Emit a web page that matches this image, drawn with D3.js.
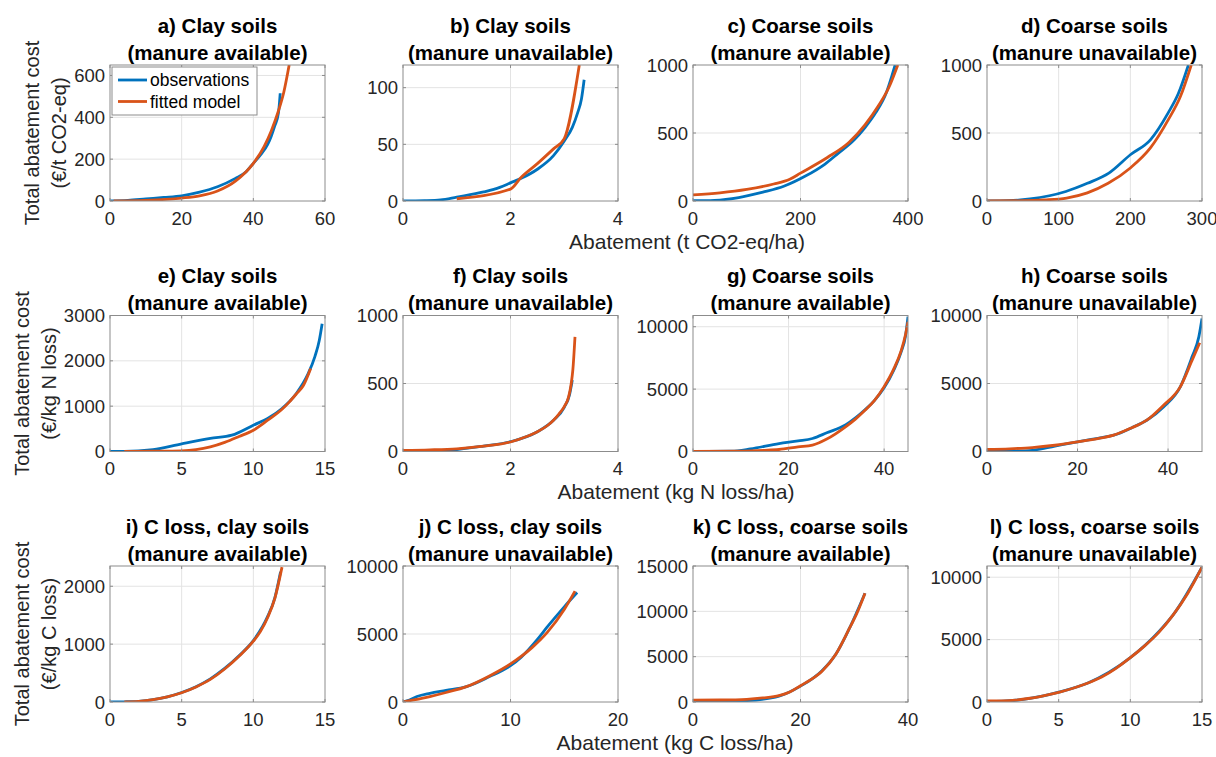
<!DOCTYPE html>
<html>
<head>
<meta charset="utf-8" />
<title>Abatement cost curves</title>
<script src="https://d3js.org/d3.v7.min.js"></script>
<style>
  body { margin: 0; background: #fff; }
  svg { display: block; font-family: "Liberation Sans", Arial, sans-serif; }
  .grid line { stroke: #e3e3e3; stroke-width: 1; }
  .frame { fill: none; stroke: #8c8c8c; stroke-width: 1; }
  .tick-mark { stroke: #8c8c8c; stroke-width: 1; }
  .tick-label { font-size: 18.5px; fill: #262626; }
  .title { font-size: 20.5px; font-weight: bold; fill: #000; text-anchor: middle; }
  .axis-label { font-size: 21px; fill: #262626; text-anchor: middle; }
  .obs { fill: none; stroke: #0072bd; stroke-width: 2.8; stroke-linejoin: round; }
  .fit { fill: none; stroke: #d95319; stroke-width: 2.8; stroke-linejoin: round; }
</style>
</head>
<body>
<svg width="1216" height="757"></svg>
<script>
  // ---- data: [abatement, total cost] ----
  const obsA = [[0,0],[5,3],[10,10],[15,17],[20,25],[25,42],[30,68],[35,108],[38,140],[40,180],[42,220],[44,270],[45,310],[46,360],[47,420],[47.3,470],[47.5,515]];
  const fitA = [[1,0],[10,3],[20,14],[25,25],[30,48],[35,95],[40,180],[43,260],[45,335],[47,430],[48.5,520],[50,650]];

  const obsB = [[0,0],[0.4,0.3],[0.7,1],[1,3.5],[1.5,8],[1.8,12],[2,16],[2.2,20],[2.5,28],[2.8,40],[3,53],[3.15,65],[3.25,78],[3.32,90],[3.37,107]];
  const fitB = [[1,2],[2,10.5],[2.2,21],[2.5,33],[2.8,46],[3,55],[3.28,120]];

  const obsC = [[0,2],[40,5],[85,25],[130,65],[170,110],[210,185],[245,270],[270,350],[300,450],[320,540],[340,650],[360,800],[370,920],[376,1000]];
  const fitC = [[0,45],[50,60],[100,85],[150,125],[180,160],[200,205],[250,320],[290,430],[320,560],[345,700],[365,840],[381,1000]];

  const obsD = [[0,0],[30,2],[60,15],[110,70],[140,130],[170,205],[200,340],[228,450],[253,650],[267,790],[281,1000]];
  const fitD = [[0,0],[50,2],[80,8],[111,22],[140,60],[169,130],[200,243],[228,390],[253,598],[270,770],[285,1000]];

  const obsE = [[0,0],[1,0],[3,40],[5,170],[7,290],[8.5,360],[10,580],[11,730],[12,950],[13,1280],[13.8,1700],[14.3,2100],[14.6,2450],[14.8,2820]];
  const fitE = [[1,0],[3,5],[5,15],[6,40],[7,100],[8,200],[9,330],[10,470],[11,690],[12,930],[12.5,1090],[13,1270],[13.5,1460],[14,1830]];

  const obsF = [[0,0],[0.5,2],[0.9,10],[1.5,40],[2,72],[2.5,145],[2.8,230],[3.0,325],[3.1,420],[3.15,525]];
  const fitF = [[0,8],[0.5,12],[1,20],[1.5,40],[2,70],[2.3,110],[2.5,145],[2.7,195],[2.8,230],[2.9,275],[3.0,330],[3.08,400],[3.13,500],[3.16,600],[3.2,843]];

  const obsG = [[0,0],[8,20],[12,200],[18,640],[22,850],[25,1040],[28,1500],[32,2150],[34,2700],[36,3350],[38,4100],[40,5100],[42,6500],[43.5,7900],[44.5,9300],[45,10800]];
  const fitG = [[0,0],[10,20],[15,90],[18,160],[22,370],[25,510],[28,1000],[32,2000],[34,2600],[36,3300],[38,4100],[40,5200],[42,6600],[43.5,8000],[44.5,9400],[45,10400]];

  const obsH = [[0,0],[5,20],[10,90],[15,400],[20,710],[25,1000],[28,1200],[32,1750],[35.3,2300],[39,3280],[42.7,4750],[45.3,6960],[46.8,8430],[47.5,9780]];
  const fitH = [[0,150],[5,200],[10,290],[15,460],[20,700],[25,980],[28,1200],[32,1750],[35.3,2300],[39,3400],[42.7,4750],[45.3,6700],[47,8000]];

  const obsI = [[0,0],[1,3],[2,12],[3,40],[4,90],[5,165],[6,265],[7,400],[8,580],[9,800],[10,1060],[11,1480],[11.5,1800],[11.9,2250]];
  const fitI = [[1,0],[2,10],[3,40],[4,90],[5,160],[6,260],[7,390],[8,570],[9,790],[10,1050],[10.5,1220],[11,1460],[11.5,1790],[12,2330]];

  const obsJ = [[0,0],[0.6,150],[1.3,400],[2.5,640],[4,850],[5.9,1130],[8,1850],[10,2670],[11,3300],[12.5,4600],[13.4,5500],[15,7000],[16.2,8050]];
  const fitJ = [[0,0],[1,150],[2.5,400],[4,700],[5.9,1130],[8,1900],[10,2800],[12,4000],[13.4,5100],[15,6800],[16,8150]];

  const obsK = [[0,0],[5,50],[10,150],[16,650],[20,1750],[24,3450],[26.6,5300],[29,8000],[32,12000]];
  const fitK = [[0,200],[5,220],[10,300],[13,450],[16,700],[18,1100],[20,1800],[22,2500],[24,3400],[26.6,5300],[29,8000],[30.5,9800],[32,12000]];

  const obsL = [[0,0],[2,140],[3,290],[5,790],[7,1500],[10,3550],[12,5650],[13,7000],[15,10800]];
  const fitL = [[0,80],[1,90],[2,150],[3,300],[4,520],[5,780],[6,1100],[7,1500],[8,2000],[9,2700],[10,3550],[11,4500],[12,5600],[13,7000],[14,8700],[15,10800]];

  const titles = [
    ["a) Clay soils", "(manure available)"], ["b) Clay soils", "(manure unavailable)"],
    ["c) Coarse soils", "(manure available)"], ["d) Coarse soils", "(manure unavailable)"],
    ["e) Clay soils", "(manure available)"], ["f) Clay soils", "(manure unavailable)"],
    ["g) Coarse soils", "(manure available)"], ["h) Coarse soils", "(manure unavailable)"],
    ["i) C loss, clay soils", "(manure available)"], ["j) C loss, clay soils", "(manure unavailable)"],
    ["k) C loss, coarse soils", "(manure available)"], ["l) C loss, coarse soils", "(manure unavailable)"]
  ];
  const xDomains = [[0,60],[0,4],[0,400],[0,300],[0,15],[0,4],[0,45],[0,47.5],[0,15],[0,20],[0,40],[0,15]];
  const yDomains = [[0,650],[0,120],[0,1000],[0,1000],[0,3000],[0,1000],[0,10900],[0,10000],[0,2350],[0,10000],[0,15000],[0,10900]];
  const xTicks = [[0,20,40,60],[0,2,4],[0,200,400],[0,100,200,300],[0,5,10,15],[0,2,4],[0,20,40],[0,20,40],[0,5,10,15],[0,10,20],[0,20,40],[0,5,10,15]];
  const yTicks = [[0,200,400,600],[0,50,100],[0,500,1000],[0,500,1000],[0,1000,2000,3000],[0,500,1000],[0,5000,10000],[0,5000,10000],[0,1000,2000],[0,5000,10000],[0,5000,10000,15000],[0,5000,10000]];
  const observations = [obsA,obsB,obsC,obsD,obsE,obsF,obsG,obsH,obsI,obsJ,obsK,obsL];
  const fitted = [fitA,fitB,fitC,fitD,fitE,fitF,fitG,fitH,fitI,fitJ,fitK,fitL];

  const rowXLabels = ["Abatement (t CO2-eq/ha)", "Abatement (kg N loss/ha)", "Abatement (kg C loss/ha)"];
  const rowYUnits = ["(€/t CO2-eq)", "(€/kg N loss)", "(€/kg C loss)"];
  const legendNames = ["observations", "fitted model"];

  // ---- layout ----
  const colLeft = [110, 403, 693, 987];
  const rowTop = [65, 315.5, 566];
  const pw = 215, ph = 136;
  const xLabelCx = [687, 676, 675];
  const yLabelX = [[32, 59], [22, 49], [22, 49]];

  const svg = d3.select("svg");

  titles.forEach((t, i) => {
    const r = Math.floor(i / 4), c = i % 4;
    const g = svg.append("g").attr("transform", `translate(${colLeft[c]},${rowTop[r]})`);
    const x = d3.scaleLinear().domain(xDomains[i]).range([0, pw]);
    const y = d3.scaleLinear().domain(yDomains[i]).range([ph, 0]);

    // grid
    const grid = g.append("g").attr("class", "grid");
    grid.selectAll(".gx").data(xTicks[i].filter(v => v > xDomains[i][0] && v < xDomains[i][1]))
      .join("line").attr("x1", d => x(d)).attr("x2", d => x(d)).attr("y1", 0).attr("y2", ph);
    grid.selectAll(".gy").data(yTicks[i].filter(v => v > yDomains[i][0] && v < yDomains[i][1]))
      .join("line").attr("y1", d => y(d)).attr("y2", d => y(d)).attr("x1", 0).attr("x2", pw);

    // curves
    const clipId = "clip" + i;
    g.append("clipPath").attr("id", clipId).append("rect").attr("width", pw).attr("height", ph);
    const line = d3.line().x(d => x(d[0])).y(d => y(d[1])).curve(d3.curveMonotoneX);
    const plot = g.append("g").attr("clip-path", `url(#${clipId})`);
    plot.append("path").attr("class", "obs").attr("d", line(observations[i]));
    plot.append("path").attr("class", "fit").attr("d", line(fitted[i]));

    // frame and inward ticks on all sides
    g.append("rect").attr("class", "frame").attr("width", pw).attr("height", ph);
    const tl = 3;
    xTicks[i].forEach(v => {
      g.append("line").attr("class", "tick-mark").attr("x1", x(v)).attr("x2", x(v)).attr("y1", ph).attr("y2", ph - tl);
      g.append("line").attr("class", "tick-mark").attr("x1", x(v)).attr("x2", x(v)).attr("y1", 0).attr("y2", tl);
    });
    yTicks[i].forEach(v => {
      g.append("line").attr("class", "tick-mark").attr("y1", y(v)).attr("y2", y(v)).attr("x1", 0).attr("x2", tl);
      g.append("line").attr("class", "tick-mark").attr("y1", y(v)).attr("y2", y(v)).attr("x1", pw).attr("x2", pw - tl);
    });

    g.selectAll(".xt").data(xTicks[i]).join("text")
      .attr("class", "tick-label").attr("x", d => x(d)).attr("y", ph + 17)
      .attr("text-anchor", "middle").attr("dominant-baseline", "central").text(d => d);
    g.selectAll(".yt").data(yTicks[i]).join("text")
      .attr("class", "tick-label").attr("x", -5).attr("y", d => y(d))
      .attr("text-anchor", "end").attr("dominant-baseline", "central").text(d => d);

    // title
    g.append("text").attr("class", "title").attr("x", pw / 2).attr("y", -40)
      .attr("dominant-baseline", "central").text(t[0]);
    g.append("text").attr("class", "title").attr("x", pw / 2).attr("y", -13)
      .attr("dominant-baseline", "central").text(t[1]);

    // legend in first panel
    if (i === 0) {
      const lg = g.append("g").attr("transform", "translate(2,2)");
      lg.append("rect").attr("width", 145).attr("height", 48)
        .attr("fill", "#fff").attr("stroke", "#8c8c8c").attr("stroke-width", 1);
      legendNames.forEach((name, k) => {
        const yy = 13 + k * 21.5;
        lg.append("line").attr("class", k === 0 ? "obs" : "fit")
          .attr("x1", 6).attr("x2", 35).attr("y1", yy).attr("y2", yy);
        lg.append("text").attr("x", 38).attr("y", yy).attr("dominant-baseline", "central")
          .style("font-size", "17.5px").style("fill", "#000").text(name);
      });
    }
  });

  // row axis labels
  rowTop.forEach((top, r) => {
    svg.append("text").attr("class", "axis-label")
      .attr("x", xLabelCx[r]).attr("y", top + ph + 40)
      .attr("dominant-baseline", "central").text(rowXLabels[r]);
    const cy = top + ph / 2;
    svg.append("text").attr("class", "axis-label").style("font-size", "20px")
      .attr("transform", `translate(${yLabelX[r][0]},${cy}) rotate(-90)`)
      .attr("dominant-baseline", "central").text("Total abatement cost");
    svg.append("text").attr("class", "axis-label").style("font-size", "20px")
      .attr("transform", `translate(${yLabelX[r][1]},${cy}) rotate(-90)`)
      .attr("dominant-baseline", "central").text(rowYUnits[r]);
  });
</script>
</body>
</html>
